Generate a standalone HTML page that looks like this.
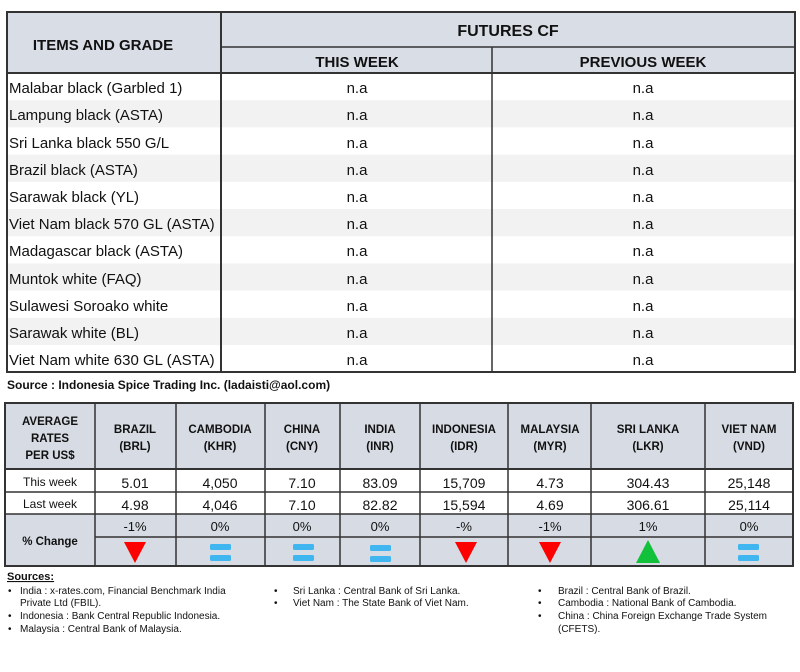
<!DOCTYPE html>
<html><head><meta charset="utf-8"><style>
html,body{margin:0;padding:0;background:#fff}
svg{display:block}
text{font-family:"Liberation Sans",sans-serif;fill:#111}
.b{font-weight:bold}
</style></head><body>
<svg width="800" height="672" viewBox="0 0 800 672" xmlns="http://www.w3.org/2000/svg">
<rect x="7" y="12" width="788" height="61" fill="#d9dde6"/>
<g fill="#f2f2f2">
<rect x="7" y="100.2" width="788" height="27.2"/>
<rect x="7" y="154.6" width="788" height="27.2"/>
<rect x="7" y="209" width="788" height="27.2"/>
<rect x="7" y="263.4" width="788" height="27.2"/>
<rect x="7" y="317.8" width="788" height="27.2"/>
</g>
<g stroke="#333" fill="none">
<rect x="7" y="12" width="788" height="360" stroke-width="2"/>
<line x1="7" y1="73" x2="795" y2="73" stroke-width="2"/>
<line x1="221" y1="12" x2="221" y2="372" stroke-width="2"/>
<line x1="221" y1="47" x2="795" y2="47" stroke-width="1.5"/>
<line x1="492" y1="47" x2="492" y2="372" stroke-width="1.5"/>
</g>
<text class="b" x="103" y="50" font-size="15" text-anchor="middle">ITEMS AND GRADE</text>
<text class="b" x="508" y="36" font-size="16" text-anchor="middle">FUTURES CF</text>
<text class="b" x="357" y="67" font-size="15" text-anchor="middle">THIS WEEK</text>
<text class="b" x="643" y="67" font-size="15" text-anchor="middle">PREVIOUS WEEK</text>
<g font-size="15">
<text x="9" y="93">Malabar black (Garbled 1)</text>
<text x="9" y="120">Lampung black (ASTA)</text>
<text x="9" y="148">Sri Lanka black 550 G/L</text>
<text x="9" y="175">Brazil black (ASTA)</text>
<text x="9" y="202">Sarawak black (YL)</text>
<text x="9" y="229">Viet Nam black 570 GL (ASTA)</text>
<text x="9" y="256">Madagascar black (ASTA)</text>
<text x="9" y="284">Muntok white (FAQ)</text>
<text x="9" y="311">Sulawesi Soroako white</text>
<text x="9" y="338">Sarawak  white (BL)</text>
<text x="9" y="365">Viet Nam white 630 GL (ASTA)</text>
</g>
<g font-size="15" text-anchor="middle">
<text x="357" y="93">n.a</text><text x="643" y="93">n.a</text>
<text x="357" y="120">n.a</text><text x="643" y="120">n.a</text>
<text x="357" y="148">n.a</text><text x="643" y="148">n.a</text>
<text x="357" y="175">n.a</text><text x="643" y="175">n.a</text>
<text x="357" y="202">n.a</text><text x="643" y="202">n.a</text>
<text x="357" y="229">n.a</text><text x="643" y="229">n.a</text>
<text x="357" y="256">n.a</text><text x="643" y="256">n.a</text>
<text x="357" y="284">n.a</text><text x="643" y="284">n.a</text>
<text x="357" y="311">n.a</text><text x="643" y="311">n.a</text>
<text x="357" y="338">n.a</text><text x="643" y="338">n.a</text>
<text x="357" y="365">n.a</text><text x="643" y="365">n.a</text>
</g>
<text class="b" x="7" y="389" font-size="12">Source : Indonesia Spice Trading Inc. (ladaisti@aol.com)</text>

<rect x="5" y="403" width="788" height="66" fill="#d6dbe4"/>
<rect x="5" y="514" width="788" height="52" fill="#d6dbe4"/>
<g stroke="#333" fill="none">
<rect x="5" y="403" width="788" height="163" stroke-width="2"/>
<line x1="5" y1="469" x2="793" y2="469" stroke-width="2"/>
<line x1="5" y1="492" x2="793" y2="492" stroke-width="1.5"/>
<line x1="5" y1="514" x2="793" y2="514" stroke-width="1.5"/>
<line x1="95" y1="537" x2="793" y2="537" stroke-width="1.5"/>
<g stroke-width="1.5">
<line x1="95" y1="403" x2="95" y2="566"/>
<line x1="176" y1="403" x2="176" y2="566"/>
<line x1="265" y1="403" x2="265" y2="566"/>
<line x1="340" y1="403" x2="340" y2="566"/>
<line x1="420" y1="403" x2="420" y2="566"/>
<line x1="508" y1="403" x2="508" y2="566"/>
<line x1="591" y1="403" x2="591" y2="566"/>
<line x1="705" y1="403" x2="705" y2="566"/>
</g>
</g>
<g class="b" font-size="11.5" text-anchor="middle" font-weight="bold">
<text x="50" y="425">AVERAGE</text><text x="50" y="442">RATES</text><text x="50" y="459">PER US$</text>
<text x="135" y="433">BRAZIL</text><text x="135" y="450">(BRL)</text>
<text x="220" y="433">CAMBODIA</text><text x="220" y="450">(KHR)</text>
<text x="302" y="433">CHINA</text><text x="302" y="450">(CNY)</text>
<text x="380" y="433">INDIA</text><text x="380" y="450">(INR)</text>
<text x="464" y="433">INDONESIA</text><text x="464" y="450">(IDR)</text>
<text x="550" y="433">MALAYSIA</text><text x="550" y="450">(MYR)</text>
<text x="648" y="433">SRI LANKA</text><text x="648" y="450">(LKR)</text>
<text x="749" y="433">VIET NAM</text><text x="749" y="450">(VND)</text>
<text x="50" y="545">% Change</text>
</g>
<g font-size="12" text-anchor="middle">
<text x="50" y="486">This week</text><text x="50" y="508">Last week</text>
</g>
<g font-size="14" text-anchor="middle">
<text x="135" y="488">5.01</text><text x="220" y="488">4,050</text><text x="302" y="488">7.10</text><text x="380" y="488">83.09</text><text x="464" y="488">15,709</text><text x="550" y="488">4.73</text><text x="648" y="488">304.43</text><text x="749" y="488">25,148</text>
<text x="135" y="510">4.98</text><text x="220" y="510">4,046</text><text x="302" y="510">7.10</text><text x="380" y="510">82.82</text><text x="464" y="510">15,594</text><text x="550" y="510">4.69</text><text x="648" y="510">306.61</text><text x="749" y="510">25,114</text>
</g>
<g font-size="13" text-anchor="middle">
<text x="135" y="531">-1%</text><text x="220" y="531">0%</text><text x="302" y="531">0%</text><text x="380" y="531">0%</text><text x="464" y="531">-%</text><text x="550" y="531">-1%</text><text x="648" y="531">1%</text><text x="749" y="531">0%</text>
</g>
<g fill="#ff0000">
<polygon points="124,542 146,542 135,563"/>
<polygon points="455,542 477,542 466,563"/>
<polygon points="539,542 561,542 550,563"/>
</g>
<polygon points="636,563 660,563 648,540" fill="#11c13a"/>
<g fill="#3fb6f0">
<rect x="210" y="544" width="21" height="6" rx="1.5"/><rect x="210" y="555" width="21" height="6" rx="1.5"/>
<rect x="293" y="544" width="21" height="6" rx="1.5"/><rect x="293" y="555" width="21" height="6" rx="1.5"/>
<rect x="370" y="545" width="21" height="6" rx="1.5"/><rect x="370" y="556" width="21" height="6" rx="1.5"/>
<rect x="738" y="544" width="21" height="6" rx="1.5"/><rect x="738" y="555" width="21" height="6" rx="1.5"/>
</g>
<text class="b" x="7" y="580" font-size="11" text-decoration="underline">Sources:</text>
<g font-size="10">
<text x="8" y="594">•</text><text x="20" y="594">India : x-rates.com, Financial Benchmark India</text>
<text x="20" y="606">Private Ltd (FBIL).</text>
<text x="8" y="619">•</text><text x="20" y="619">Indonesia : Bank Central Republic Indonesia.</text>
<text x="8" y="632">•</text><text x="20" y="632">Malaysia : Central Bank of Malaysia.</text>
<text x="274" y="594">•</text><text x="293" y="594">Sri Lanka : Central Bank of Sri Lanka.</text>
<text x="274" y="606">•</text><text x="293" y="606">Viet Nam : The State Bank of Viet Nam.</text>
<text x="538" y="594">•</text><text x="558" y="594">Brazil :  Central Bank of Brazil.</text>
<text x="538" y="606">•</text><text x="558" y="606">Cambodia : National Bank of Cambodia.</text>
<text x="538" y="619">•</text><text x="558" y="619">China : China Foreign Exchange Trade System</text>
<text x="558" y="632">(CFETS).</text>
</g>
</svg>
</body></html>
